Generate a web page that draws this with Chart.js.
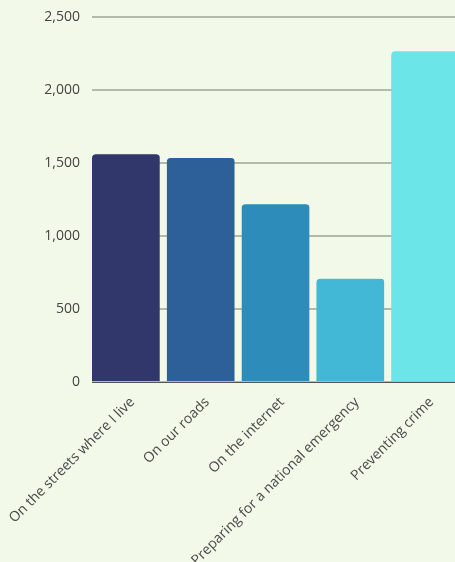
<!DOCTYPE html>
<html>
<head>
<meta charset="utf-8">
<script src="https://cdn.jsdelivr.net/npm/chart.js@4/dist/chart.umd.min.js"></script>
<style>
  html, body { margin: 0; padding: 0; background: #f2f9e8; overflow: hidden; }
  #wrap { width: 466px; height: 562px; }
</style>
</head>
<body>
<div id="wrap"><canvas id="barchart" width="466" height="562"></canvas></div>
<script>
// Where people want spending - Bar chart
const categories = [
  "On the streets where I live",
  "On our roads",
  "On the internet",
  "Preparing for a national emergency",
  "Preventing crime",
];
const responses = [1560, 1535, 1218, 708, 2265];
const barColors = ["#31366b", "#2d5f98", "#2d8cba", "#42b8d6", "#6be5e8"];

Chart.defaults.font.family = "'Open Sans', sans-serif";
Chart.defaults.font.size = 14;
Chart.defaults.color = "#4a4a4a";

const barctx = document.getElementById("barchart");

new Chart(barctx, {
  type: "bar",
  data: {
    labels: categories,
    datasets: [
      {
        data: responses,
        backgroundColor: barColors,
        borderColor: "rgba(0, 0, 0, 0)", // transparent right edge makes the gap
        borderWidth: { top: 0, right: 7.4, bottom: 0, left: 0 },
        borderSkipped: false,
        // right radius includes the border so the visible corner stays at 4
        borderRadius: { topLeft: 4, topRight: 11.4, bottomLeft: 0, bottomRight: 0 },
        categoryPercentage: 1,
        barPercentage: 1,
      },
    ],
  },
  options: {
    responsive: false,
    animation: false,
    layout: {
      padding: { left: 0, top: 17, right: 0, bottom: 0 },
    },
    plugins: {
      legend: { display: false },
      tooltip: { enabled: false },
    },
    scales: {
      x: {
        grid: { display: false },
        border: { display: true, color: "#555", width: 1 },
        ticks: { maxRotation: 45, minRotation: 45, color: "#4a4a4a", padding: 4, labelOffset: 3 },
        afterFit: (scale) => {
          scale.height = 180;
          scale.paddingLeft = 0;
        },
      },
      y: {
        min: 0,
        max: 2500,
        ticks: { stepSize: 500, padding: 12, color: "#444" },
        grid: { color: "#b3baa9", lineWidth: 2, drawTicks: false },
        border: { display: false },
        afterFit: (scale) => {
          scale.width = 92;
          scale.paddingTop = 0;
        },
      },
    },
  },
});
</script>
</body>
</html>
